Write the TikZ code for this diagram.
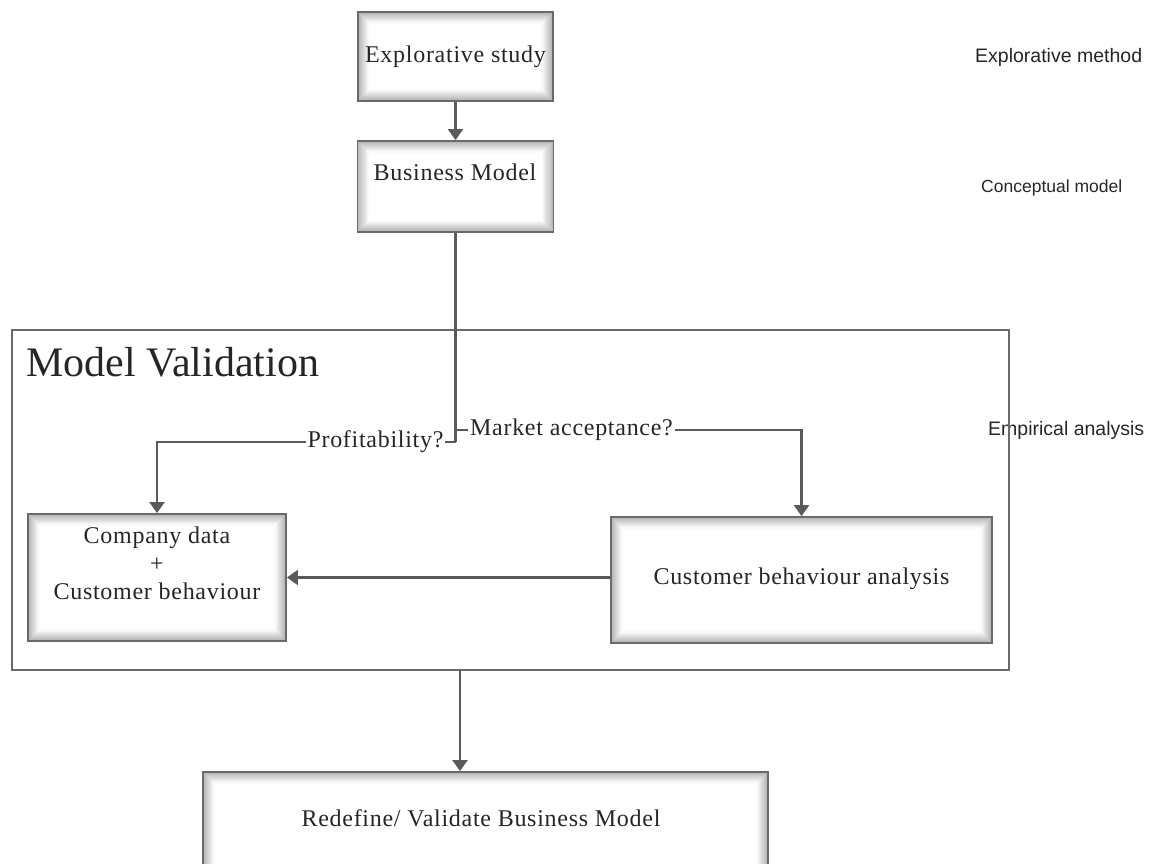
\documentclass[tikz,border=0pt]{standalone}
\usepackage{fontspec}
\setmainfont{Liberation Serif}
\newfontfamily\sansf{Liberation Sans}
\newfontfamily\spacedserif[LetterSpace=3]{Liberation Serif}
\usetikzlibrary{arrows.meta,calc}
\definecolor{linegray}{HTML}{5A5A5A}
\definecolor{bordergray}{HTML}{6A6A6A}
\tikzset{
  shadebox/.style={draw=bordergray, line width=1.8pt, fill=white, inner sep=0pt,
    path picture={
      \foreach \i [evaluate=\i as \op using {0.30-0.028*\i}] in {1,...,10}{
        \draw[black, opacity=\op, line width=1.1pt]
          ($(path picture bounding box.north west)+(\i*1.1pt,-\i*1.1pt)$) rectangle
          ($(path picture bounding box.south east)+(-\i*1.1pt,\i*1.1pt)$);}
    }},
  boxtext/.style={font=\spacedserif\fontsize{24}{28}\selectfont, align=center, inner sep=0pt, text=black!85},
  qtext/.style={font=\spacedserif\fontsize{24}{28}\selectfont, inner sep=1.5pt, text=black!85},
  sidetext/.style={font=\sansf\fontsize{19.5}{22}\selectfont, anchor=west, inner sep=0pt, text=black!85},
  conn/.style={draw=linegray, line width=2.2pt},
  arr/.style={conn, -{Triangle[width=15pt,length=11pt]}},
}
\begin{document}
\begin{tikzpicture}[x=1pt,y=-1pt]
\useasboundingbox (0,0) rectangle (1156,863);

% side labels
\node[sidetext] (sm) at (975,57) {Explorative method};
\node[sidetext, font=\sansf\fontsize{17.5}{20}\selectfont] (sc) at (981,188) {Conceptual model};
\node[sidetext] (se) at (988,430) {Empirical analysis};

% frame
\draw[draw=bordergray, line width=1.8pt] (12,330) rectangle (1009,670);
\node[anchor=west, inner sep=0pt, font=\fontsize{42}{44}\selectfont, text=black!85] (title) at (26,362) {Model Validation};

% boxes
\node[shadebox, minimum width=195pt, minimum height=89pt] (es) at (455.5,56.5) {};
\node[boxtext] (est) at (455.5,57) {Explorative study};

\node[shadebox, minimum width=196pt, minimum height=91pt] (bm) at (455.5,186.5) {};
\node[boxtext] (bmt) at (455,172) {Business Model};

\node[shadebox, minimum width=258pt, minimum height=127pt] (cd) at (157,577.5) {};
\node[boxtext] (cdt) at (157,563) {Company data\\+\\Customer behaviour};

\node[shadebox, minimum width=381pt, minimum height=126pt] (cba) at (801.5,580) {};
\node[boxtext] (cbat) at (801.5,579) {Customer behaviour analysis};

\node[shadebox, minimum width=565pt, minimum height=104pt] (rd) at (485.5,824) {};
\node[boxtext] (rdt) at (481,818) {Redefine/ Validate Business Model};

% connectors
\draw[arr] (es.south) -- (es.south |- bm.north);
\coordinate (j1) at (455.5,442);
\coordinate (j2) at (455.5,430);
\node[qtext] (pl) at (375.5,442) {Profitability?};
\node[qtext] (ma) at (571.5,430) {Market acceptance?};
\draw[conn] (bm.south) -- (j1);
\draw[conn] (j1) -- (pl.east |- j1);
\draw[arr] (pl.west |- j1) -| (cd.north);
\draw[conn] (j2) -- (ma.west |- j2);
\draw[arr] (ma.east |- j2) -| (cba.north);
\draw[arr] (cba.west |- cd.east) -- (cd.east);
\coordinate (fb) at (460,670);
\draw[arr] (fb) -- (fb |- rd.north);
\end{tikzpicture}
\end{document}
